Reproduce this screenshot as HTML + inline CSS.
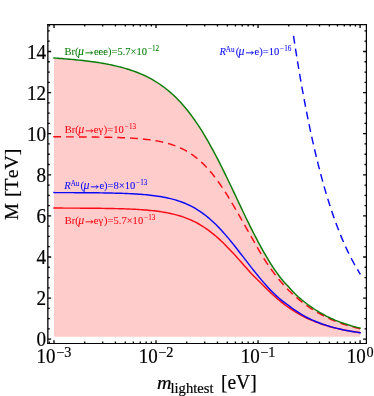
<!DOCTYPE html>
<html><head><meta charset="utf-8"><title>plot</title>
<style>html,body{margin:0;padding:0;background:#fff}svg{display:block;will-change:transform}text{font-kerning:none}</style></head>
<body>
<svg width="374" height="396" viewBox="0 0 374 396">
<rect width="374" height="396" fill="#fff"/>
<path d="M54.00 58.03 L55.92 58.15 L57.85 58.28 L59.77 58.42 L61.70 58.56 L63.62 58.70 L65.55 58.86 L67.47 59.01 L69.40 59.18 L71.32 59.35 L73.25 59.53 L75.17 59.71 L77.09 59.91 L79.02 60.11 L80.94 60.31 L82.87 60.53 L84.79 60.75 L86.72 60.99 L88.64 61.23 L90.57 61.48 L92.49 61.74 L94.42 62.02 L96.34 62.30 L98.26 62.59 L100.19 62.90 L102.11 63.22 L104.04 63.56 L105.96 63.91 L107.89 64.27 L109.81 64.65 L111.74 65.05 L113.66 65.46 L115.58 65.90 L117.51 66.35 L119.43 66.83 L121.36 67.32 L123.28 67.84 L125.21 68.39 L127.13 68.96 L129.06 69.56 L130.98 70.19 L132.91 70.85 L134.83 71.54 L136.75 72.26 L138.68 73.02 L140.60 73.82 L142.53 74.65 L144.45 75.53 L146.38 76.45 L148.30 77.41 L150.23 78.42 L152.15 79.49 L154.08 80.60 L156.00 81.76 L157.92 82.99 L159.85 84.26 L161.77 85.60 L163.70 87.01 L165.62 88.47 L167.55 90.01 L169.47 91.61 L171.40 93.28 L173.32 95.03 L175.25 96.85 L177.17 98.76 L179.09 100.74 L181.02 102.81 L182.94 104.96 L184.87 107.20 L186.79 109.53 L188.72 111.95 L190.64 114.46 L192.57 117.06 L194.49 119.75 L196.42 122.54 L198.34 125.42 L200.26 128.39 L202.19 131.45 L204.11 134.60 L206.04 137.83 L207.96 141.16 L209.89 144.56 L211.81 148.04 L213.74 151.60 L215.66 155.23 L217.58 158.93 L219.51 162.70 L221.43 166.52 L223.36 170.39 L225.28 174.31 L227.21 178.28 L229.13 182.28 L231.06 186.31 L232.98 190.36 L234.91 194.43 L236.83 198.50 L238.75 202.58 L240.68 206.64 L242.60 210.69 L244.53 214.71 L246.45 218.70 L248.38 222.65 L250.30 226.56 L252.23 230.41 L254.15 234.21 L256.08 237.94 L258.00 241.61 L259.92 245.20 L261.85 248.71 L263.77 252.14 L265.70 255.48 L267.62 258.74 L269.55 261.90 L271.47 264.95 L273.40 267.88 L275.32 270.68 L277.25 273.37 L279.17 275.95 L281.09 278.44 L283.02 280.77 L284.94 282.94 L286.87 285.03 L288.79 287.09 L290.72 289.20 L292.64 291.29 L294.57 293.30 L296.49 295.20 L298.42 296.98 L300.34 298.66 L302.26 300.26 L304.19 301.79 L306.11 303.26 L308.04 304.71 L309.96 306.11 L311.89 307.46 L313.81 308.75 L315.74 309.99 L317.66 311.18 L319.58 312.32 L321.51 313.42 L323.43 314.49 L325.36 315.53 L327.28 316.54 L329.21 317.50 L331.13 318.41 L333.06 319.26 L334.98 320.08 L336.91 320.85 L338.83 321.59 L340.75 322.31 L342.68 322.99 L344.60 323.65 L346.53 324.29 L348.45 324.91 L350.38 325.50 L352.30 326.07 L354.23 326.61 L356.15 327.13 L358.08 327.63 L360.00 328.12 L360.30 328.17 L360.30 336.80 L54.00 336.80 Z" fill="#ffcccc"/>
<g fill="none" stroke-width="1.45" stroke-linejoin="round" stroke-linecap="square">
<path d="M54.00 208.07 L55.92 208.08 L57.85 208.08 L59.77 208.09 L61.70 208.09 L63.62 208.10 L65.55 208.10 L67.47 208.11 L69.40 208.11 L71.32 208.12 L73.25 208.13 L75.17 208.13 L77.09 208.14 L79.02 208.15 L80.94 208.16 L82.87 208.17 L84.79 208.19 L86.72 208.20 L88.64 208.21 L90.57 208.23 L92.49 208.25 L94.42 208.26 L96.34 208.28 L98.26 208.30 L100.19 208.33 L102.11 208.35 L104.04 208.38 L105.96 208.41 L107.89 208.44 L109.81 208.47 L111.74 208.51 L113.66 208.55 L115.58 208.60 L117.51 208.64 L119.43 208.70 L121.36 208.75 L123.28 208.81 L125.21 208.88 L127.13 208.95 L129.06 209.02 L130.98 209.11 L132.91 209.20 L134.83 209.30 L136.75 209.40 L138.68 209.51 L140.60 209.64 L142.53 209.77 L144.45 209.92 L146.38 210.07 L148.30 210.24 L150.23 210.42 L152.15 210.62 L154.08 210.83 L156.00 211.06 L157.92 211.31 L159.85 211.58 L161.77 211.87 L163.70 212.18 L165.62 212.51 L167.55 212.88 L169.47 213.26 L171.40 213.68 L173.32 214.13 L175.25 214.61 L177.17 215.13 L179.09 215.68 L181.02 216.28 L182.94 216.91 L184.87 217.59 L186.79 218.31 L188.72 219.09 L190.64 219.91 L192.57 220.78 L194.49 221.71 L196.42 222.70 L198.34 223.75 L200.26 224.85 L202.19 226.02 L204.11 227.25 L206.04 228.54 L207.96 229.90 L209.89 231.32 L211.81 232.81 L213.74 234.36 L215.66 235.98 L217.58 237.65 L219.51 239.39 L221.43 241.19 L223.36 243.04 L225.28 244.94 L227.21 246.89 L229.13 248.89 L231.06 250.93 L232.98 253.00 L234.91 255.11 L236.83 257.24 L238.75 259.39 L240.68 261.56 L242.60 263.74 L244.53 265.92 L246.45 268.10 L248.38 270.28 L250.30 272.45 L252.23 274.51 L254.15 276.45 L256.08 278.32 L258.00 280.17 L259.92 282.03 L261.85 283.96 L263.77 285.93 L265.70 287.87 L267.62 289.77 L269.55 291.63 L271.47 293.44 L273.40 295.21 L275.32 296.94 L277.25 298.62 L279.17 300.24 L281.09 301.82 L283.02 303.35 L284.94 304.82 L286.87 306.25 L288.79 307.62 L290.72 308.94 L292.64 310.21 L294.57 311.43 L296.49 312.61 L298.42 313.74 L300.34 314.82 L302.26 315.87 L304.19 316.86 L306.11 317.81 L308.04 318.72 L309.96 319.58 L311.89 320.41 L313.81 321.20 L315.74 321.96 L317.66 322.69 L319.58 323.39 L321.51 324.05 L323.43 324.69 L325.36 325.29 L327.28 325.87 L329.21 326.43 L331.13 326.96 L333.06 327.47 L334.98 327.95 L336.91 328.42 L338.83 328.86 L340.75 329.28 L342.68 329.68 L344.60 330.07 L346.53 330.43 L348.45 330.78 L350.38 331.12 L352.30 331.44 L354.23 331.74 L356.15 332.03 L358.08 332.31 L360.00 332.58" stroke="#fa0a14"/>
<path d="M54.00 136.83 L55.92 136.83 L57.85 136.84 L59.77 136.84 L61.70 136.85 L63.62 136.85 L65.55 136.86 L67.47 136.87 L69.40 136.87 L71.32 136.88 L73.25 136.89 L75.17 136.90 L77.09 136.91 L79.02 136.92 L80.94 136.93 L82.87 136.94 L84.79 136.96 L86.72 136.97 L88.64 136.99 L90.57 137.01 L92.49 137.03 L94.42 137.05 L96.34 137.07 L98.26 137.10 L100.19 137.13 L102.11 137.16 L104.04 137.19 L105.96 137.23 L107.89 137.27 L109.81 137.31 L111.74 137.36 L113.66 137.41 L115.58 137.46 L117.51 137.52 L119.43 137.59 L121.36 137.66 L123.28 137.74 L125.21 137.82 L127.13 137.91 L129.06 138.01 L130.98 138.12 L132.91 138.24 L134.83 138.37 L136.75 138.51 L138.68 138.66 L140.60 138.83 L142.53 139.00 L144.45 139.20 L146.38 139.41 L148.30 139.64 L150.23 139.89 L152.15 140.16 L154.08 140.45 L156.00 140.77 L157.92 141.12 L159.85 141.49 L161.77 141.89 L163.70 142.33 L165.62 142.80 L167.55 143.32 L169.47 143.87 L171.40 144.47 L173.32 145.11 L175.25 145.81 L177.17 146.56 L179.09 147.37 L181.02 148.23 L182.94 149.17 L184.87 150.17 L186.79 151.24 L188.72 152.39 L190.64 153.62 L192.57 154.93 L194.49 156.33 L196.42 157.82 L198.34 159.40 L200.26 161.08 L202.19 162.86 L204.11 164.74 L206.04 166.72 L207.96 168.81 L209.89 171.00 L211.81 173.30 L213.74 175.70 L215.66 178.20 L217.58 180.81 L219.51 183.51 L221.43 186.30 L223.36 189.19 L225.28 192.16 L227.21 195.20 L229.13 198.32 L231.06 201.51 L232.98 204.75 L234.91 208.04 L236.83 211.37 L238.75 214.73 L240.68 218.11 L242.60 221.51 L244.53 224.91 L246.45 228.30 L248.38 231.69 L250.30 235.06 L252.23 238.45 L254.15 241.87 L256.08 245.28 L258.00 248.67 L259.92 252.00 L261.85 255.24 L263.77 258.37 L265.70 261.36 L267.62 264.24 L269.55 267.04 L271.47 269.76 L273.40 272.39 L275.32 274.95 L277.25 277.42 L279.17 279.80 L281.09 282.10 L283.02 284.31 L284.94 286.44 L286.87 288.47 L288.79 290.42 L290.72 292.28 L292.64 294.08 L294.57 295.83 L296.49 297.53 L298.42 299.17 L300.34 300.75 L302.26 302.27 L304.19 303.73 L306.11 305.15 L308.04 306.52 L309.96 307.84 L311.89 309.10 L313.81 310.32 L315.74 311.49 L317.66 312.61 L319.58 313.70 L321.51 314.75 L323.43 315.77 L325.36 316.76 L327.28 317.72 L329.21 318.64 L331.13 319.52 L333.06 320.34 L334.98 321.13 L336.91 321.88 L338.83 322.60 L340.75 323.29 L342.68 323.95 L344.60 324.58 L346.53 325.18 L348.45 325.76 L350.38 326.31 L352.30 326.84 L354.23 327.35 L356.15 327.83 L358.08 328.29 L360.00 328.73" stroke="#fa0a14" stroke-dasharray="6.35 6.45" stroke-dashoffset="0"/>
<path d="M54.00 192.59 L55.92 192.60 L57.85 192.60 L59.77 192.61 L61.70 192.61 L63.62 192.62 L65.55 192.62 L67.47 192.63 L69.40 192.63 L71.32 192.64 L73.25 192.65 L75.17 192.66 L77.09 192.67 L79.02 192.68 L80.94 192.69 L82.87 192.70 L84.79 192.71 L86.72 192.73 L88.64 192.74 L90.57 192.76 L92.49 192.78 L94.42 192.80 L96.34 192.82 L98.26 192.84 L100.19 192.87 L102.11 192.90 L104.04 192.93 L105.96 192.96 L107.89 192.99 L109.81 193.03 L111.74 193.07 L113.66 193.12 L115.58 193.16 L117.51 193.22 L119.43 193.27 L121.36 193.34 L123.28 193.40 L125.21 193.47 L127.13 193.55 L129.06 193.64 L130.98 193.73 L132.91 193.83 L134.83 193.94 L136.75 194.06 L138.68 194.18 L140.60 194.32 L142.53 194.47 L144.45 194.63 L146.38 194.81 L148.30 194.99 L150.23 195.20 L152.15 195.42 L154.08 195.66 L156.00 195.91 L157.92 196.19 L159.85 196.49 L161.77 196.82 L163.70 197.17 L165.62 197.55 L167.55 197.95 L169.47 198.39 L171.40 198.86 L173.32 199.37 L175.25 199.91 L177.17 200.50 L179.09 201.12 L181.02 201.80 L182.94 202.52 L184.87 203.29 L186.79 204.11 L188.72 204.99 L190.64 205.92 L192.57 206.92 L194.49 207.98 L196.42 209.11 L198.34 210.30 L200.26 211.56 L202.19 212.90 L204.11 214.31 L206.04 215.79 L207.96 217.34 L209.89 218.97 L211.81 220.68 L213.74 222.46 L215.66 224.31 L217.58 226.23 L219.51 228.23 L221.43 230.29 L223.36 232.42 L225.28 234.61 L227.21 236.85 L229.13 239.14 L231.06 241.49 L232.98 243.87 L234.91 246.29 L236.83 248.73 L238.75 251.20 L240.68 253.69 L242.60 256.18 L244.53 258.68 L246.45 261.18 L248.38 263.67 L250.30 266.14 L252.23 268.60 L254.15 271.02 L256.08 273.42 L258.00 275.78 L259.92 278.10 L261.85 280.37 L263.77 282.60 L265.70 284.78 L267.62 286.91 L269.55 288.98 L271.47 291.00 L273.40 292.96 L275.32 294.85 L277.25 296.64 L279.17 298.32 L281.09 299.89 L283.02 301.39 L284.94 302.84 L286.87 304.25 L288.79 305.66 L290.72 307.08 L292.64 308.49 L294.57 309.87 L296.49 311.19 L298.42 312.46 L300.34 313.68 L302.26 314.84 L304.19 315.95 L306.11 317.01 L308.04 318.00 L309.96 318.93 L311.89 319.83 L313.81 320.68 L315.74 321.50 L317.66 322.28 L319.58 323.02 L321.51 323.73 L323.43 324.41 L325.36 325.06 L327.28 325.68 L329.21 326.27 L331.13 326.83 L333.06 327.36 L334.98 327.87 L336.91 328.36 L338.83 328.82 L340.75 329.27 L342.68 329.69 L344.60 330.09 L346.53 330.47 L348.45 330.83 L350.38 331.18 L352.30 331.51 L354.23 331.83 L356.15 332.12 L358.08 332.41 L360.00 332.68" stroke="#0a0afa"/>
<path d="M293.63 36.70 L294.47 42.21 L295.31 47.63 L296.15 52.96 L296.99 58.20 L297.83 63.34 L298.67 68.40 L299.51 73.38 L300.35 78.27 L301.19 83.08 L302.03 87.80 L302.87 92.45 L303.71 97.01 L304.55 101.50 L305.39 105.91 L306.23 110.24 L307.07 114.50 L307.91 118.68 L308.75 122.80 L309.59 126.84 L310.43 130.81 L311.27 134.71 L312.11 138.54 L312.95 142.31 L313.79 146.01 L314.63 149.65 L315.47 153.22 L316.31 156.73 L317.15 160.18 L317.99 163.57 L318.84 166.90 L319.68 170.17 L320.52 173.38 L321.36 176.53 L322.20 179.63 L323.04 182.67 L323.88 185.66 L324.72 188.60 L325.56 191.48 L326.40 194.31 L327.24 197.09 L328.08 199.82 L328.92 202.50 L329.76 205.14 L330.60 207.72 L331.44 210.26 L332.28 212.76 L333.12 215.20 L333.96 217.61 L334.80 219.97 L335.64 222.29 L336.48 224.56 L337.32 226.79 L338.16 228.99 L339.00 231.14 L339.84 233.25 L340.68 235.32 L341.52 237.36 L342.36 239.36 L343.20 241.32 L344.04 243.25 L344.88 245.13 L345.72 246.99 L346.56 248.81 L347.40 250.60 L348.24 252.35 L349.08 254.07 L349.92 255.76 L350.76 257.41 L351.60 259.04 L352.44 260.63 L353.28 262.20 L354.12 263.73 L354.96 265.24 L355.80 266.72 L356.64 268.17 L357.48 269.59 L358.32 270.99 L359.16 272.36 L360.00 273.70" stroke="#0a0afa" stroke-dasharray="6.35 6.45" stroke-dashoffset="0"/>
<path d="M54.00 58.03 L55.92 58.15 L57.85 58.28 L59.77 58.42 L61.70 58.56 L63.62 58.70 L65.55 58.86 L67.47 59.01 L69.40 59.18 L71.32 59.35 L73.25 59.53 L75.17 59.71 L77.09 59.91 L79.02 60.11 L80.94 60.31 L82.87 60.53 L84.79 60.75 L86.72 60.99 L88.64 61.23 L90.57 61.48 L92.49 61.74 L94.42 62.02 L96.34 62.30 L98.26 62.59 L100.19 62.90 L102.11 63.22 L104.04 63.56 L105.96 63.91 L107.89 64.27 L109.81 64.65 L111.74 65.05 L113.66 65.46 L115.58 65.90 L117.51 66.35 L119.43 66.83 L121.36 67.32 L123.28 67.84 L125.21 68.39 L127.13 68.96 L129.06 69.56 L130.98 70.19 L132.91 70.85 L134.83 71.54 L136.75 72.26 L138.68 73.02 L140.60 73.82 L142.53 74.65 L144.45 75.53 L146.38 76.45 L148.30 77.41 L150.23 78.42 L152.15 79.49 L154.08 80.60 L156.00 81.76 L157.92 82.99 L159.85 84.26 L161.77 85.60 L163.70 87.01 L165.62 88.47 L167.55 90.01 L169.47 91.61 L171.40 93.28 L173.32 95.03 L175.25 96.85 L177.17 98.76 L179.09 100.74 L181.02 102.81 L182.94 104.96 L184.87 107.20 L186.79 109.53 L188.72 111.95 L190.64 114.46 L192.57 117.06 L194.49 119.75 L196.42 122.54 L198.34 125.42 L200.26 128.39 L202.19 131.45 L204.11 134.60 L206.04 137.83 L207.96 141.16 L209.89 144.56 L211.81 148.04 L213.74 151.60 L215.66 155.23 L217.58 158.93 L219.51 162.70 L221.43 166.52 L223.36 170.39 L225.28 174.31 L227.21 178.28 L229.13 182.28 L231.06 186.31 L232.98 190.36 L234.91 194.43 L236.83 198.50 L238.75 202.58 L240.68 206.64 L242.60 210.69 L244.53 214.71 L246.45 218.70 L248.38 222.65 L250.30 226.56 L252.23 230.41 L254.15 234.21 L256.08 237.94 L258.00 241.61 L259.92 245.20 L261.85 248.71 L263.77 252.14 L265.70 255.48 L267.62 258.74 L269.55 261.90 L271.47 264.95 L273.40 267.88 L275.32 270.68 L277.25 273.37 L279.17 275.95 L281.09 278.44 L283.02 280.77 L284.94 282.94 L286.87 285.03 L288.79 287.09 L290.72 289.20 L292.64 291.29 L294.57 293.30 L296.49 295.20 L298.42 296.98 L300.34 298.66 L302.26 300.26 L304.19 301.79 L306.11 303.26 L308.04 304.71 L309.96 306.11 L311.89 307.46 L313.81 308.75 L315.74 309.99 L317.66 311.18 L319.58 312.32 L321.51 313.42 L323.43 314.49 L325.36 315.53 L327.28 316.54 L329.21 317.50 L331.13 318.41 L333.06 319.26 L334.98 320.08 L336.91 320.85 L338.83 321.59 L340.75 322.31 L342.68 322.99 L344.60 323.65 L346.53 324.29 L348.45 324.91 L350.38 325.50 L352.30 326.07 L354.23 326.61 L356.15 327.13 L358.08 327.63 L360.00 328.12" stroke="#087d08"/>
</g>
<path d="M47.85 339.20h3.30 M366.40 339.20h-3.30 M47.85 328.93h1.90 M366.40 328.93h-1.90 M47.85 318.65h1.90 M366.40 318.65h-1.90 M47.85 308.38h1.90 M366.40 308.38h-1.90 M47.85 298.10h3.30 M366.40 298.10h-3.30 M47.85 287.82h1.90 M366.40 287.82h-1.90 M47.85 277.55h1.90 M366.40 277.55h-1.90 M47.85 267.27h1.90 M366.40 267.27h-1.90 M47.85 257.00h3.30 M366.40 257.00h-3.30 M47.85 246.72h1.90 M366.40 246.72h-1.90 M47.85 236.45h1.90 M366.40 236.45h-1.90 M47.85 226.17h1.90 M366.40 226.17h-1.90 M47.85 215.90h3.30 M366.40 215.90h-3.30 M47.85 205.62h1.90 M366.40 205.62h-1.90 M47.85 195.35h1.90 M366.40 195.35h-1.90 M47.85 185.07h1.90 M366.40 185.07h-1.90 M47.85 174.80h3.30 M366.40 174.80h-3.30 M47.85 164.52h1.90 M366.40 164.52h-1.90 M47.85 154.25h1.90 M366.40 154.25h-1.90 M47.85 143.97h1.90 M366.40 143.97h-1.90 M47.85 133.70h3.30 M366.40 133.70h-3.30 M47.85 123.42h1.90 M366.40 123.42h-1.90 M47.85 113.15h1.90 M366.40 113.15h-1.90 M47.85 102.87h1.90 M366.40 102.87h-1.90 M47.85 92.60h3.30 M366.40 92.60h-3.30 M47.85 82.32h1.90 M366.40 82.32h-1.90 M47.85 72.05h1.90 M366.40 72.05h-1.90 M47.85 61.77h1.90 M366.40 61.77h-1.90 M47.85 51.50h3.30 M366.40 51.50h-3.30 M47.85 41.22h1.90 M366.40 41.22h-1.90 M47.85 30.95h1.90 M366.40 30.95h-1.90 M49.33 343.45v-1.90 M49.33 24.60v1.90 M54.00 343.45v-3.30 M54.00 24.60v3.30 M84.71 343.45v-1.90 M84.71 24.60v1.90 M102.68 343.45v-1.90 M102.68 24.60v1.90 M115.43 343.45v-1.90 M115.43 24.60v1.90 M125.32 343.45v-1.90 M125.32 24.60v1.90 M133.39 343.45v-1.90 M133.39 24.60v1.90 M140.23 343.45v-1.90 M140.23 24.60v1.90 M146.14 343.45v-1.90 M146.14 24.60v1.90 M151.36 343.45v-1.90 M151.36 24.60v1.90 M156.03 343.45v-3.30 M156.03 24.60v3.30 M186.74 343.45v-1.90 M186.74 24.60v1.90 M204.71 343.45v-1.90 M204.71 24.60v1.90 M217.46 343.45v-1.90 M217.46 24.60v1.90 M227.35 343.45v-1.90 M227.35 24.60v1.90 M235.42 343.45v-1.90 M235.42 24.60v1.90 M242.26 343.45v-1.90 M242.26 24.60v1.90 M248.17 343.45v-1.90 M248.17 24.60v1.90 M253.39 343.45v-1.90 M253.39 24.60v1.90 M258.06 343.45v-3.30 M258.06 24.60v3.30 M288.77 343.45v-1.90 M288.77 24.60v1.90 M306.74 343.45v-1.90 M306.74 24.60v1.90 M319.49 343.45v-1.90 M319.49 24.60v1.90 M329.38 343.45v-1.90 M329.38 24.60v1.90 M337.45 343.45v-1.90 M337.45 24.60v1.90 M344.29 343.45v-1.90 M344.29 24.60v1.90 M350.20 343.45v-1.90 M350.20 24.60v1.90 M355.42 343.45v-1.90 M355.42 24.60v1.90 M360.09 343.45v-3.30 M360.09 24.60v3.30" fill="none" stroke="#000" stroke-width="1.3"/>
<g stroke="#000" fill="none"><path d="M47.20 24.60H367.00" stroke-width="1.2"/><path d="M47.20 343.45H367.00" stroke-width="1.1"/><path d="M47.85 24.00V344.00" stroke-width="1.3"/><path d="M366.40 24.00V344.00" stroke-width="1.2"/></g>
<g font-family="'Liberation Serif', serif" fill="#000" stroke="#000" stroke-width="0.2">
<text transform="translate(46.20 346) scale(1.01 1.08)" font-size="19" text-anchor="end">0</text>
<text transform="translate(46.20 305) scale(1.01 1.08)" font-size="19" text-anchor="end">2</text>
<text transform="translate(46.20 264) scale(1.01 1.08)" font-size="19" text-anchor="end">4</text>
<text transform="translate(46.20 223) scale(1.01 1.08)" font-size="19" text-anchor="end">6</text>
<text transform="translate(46.20 182) scale(1.01 1.08)" font-size="19" text-anchor="end">8</text>
<text transform="translate(46.20 141) scale(1.01 1.08)" font-size="19" text-anchor="end">10</text>
<text transform="translate(46.20 100) scale(1.01 1.08)" font-size="19" text-anchor="end">12</text>
<text transform="translate(46.20 59) scale(1.01 1.08)" font-size="19" text-anchor="end">14</text>
<text transform="translate(36.60 363.00) scale(1 1.08)" font-size="19">10</text><text x="56.30" y="357.00" font-size="14.2">−3</text>
<text transform="translate(138.63 363.00) scale(1 1.08)" font-size="19">10</text><text x="158.33" y="357.00" font-size="14.2">−2</text>
<text transform="translate(240.66 363.00) scale(1 1.08)" font-size="19">10</text><text x="260.36" y="357.00" font-size="14.2">−1</text>
<text transform="translate(346.69 363.00) scale(1 1.08)" font-size="19">10</text><text x="366.39" y="357.00" font-size="14.2">0</text>
<text transform="translate(17.5 220.0) rotate(-90)" font-size="19">M</text><text transform="translate(17.5 197.1) rotate(-90) scale(1.045 1)" font-size="19">[TeV]</text>
<text transform="translate(157.00 389) scale(1.07 1)" font-size="18.8" font-style="italic">m</text><text x="170.50" y="393" font-size="14.6">lightest</text><text transform="translate(220.90 389) scale(1.03 1.06)" font-size="19">[eV]</text>
</g>
<g font-family="'Liberation Serif', serif" fill="#087d08" stroke="#087d08" stroke-width="0.08">
<text x="64.40" y="55.00" font-size="10.55">Br(</text>
<text x="77.91" y="55.00" font-size="11.92" font-style="italic">μ</text>
<path d="M85.34 52.84H91.94" fill="none" stroke-width="0.95"/><path d="M93.25 52.84Q91.80 52.14 90.62 50.83Q91.41 52.04 91.62 52.84Q91.41 53.64 90.62 54.84Q91.80 53.54 93.25 52.84Z" stroke-width="0.3"/>
<text x="93.89" y="55.00" font-size="10.55">eee)=5.7×10</text>
<text transform="translate(147.89 51.00) scale(1 1.15)" font-size="7.2">−12</text>
</g>
<g font-family="'Liberation Serif', serif" fill="#fa0a14" stroke="#fa0a14" stroke-width="0.08">
<text x="64.70" y="133.00" font-size="10.55">Br(</text>
<text x="78.21" y="133.00" font-size="11.92" font-style="italic">μ</text>
<path d="M85.64 130.84H92.24" fill="none" stroke-width="0.95"/><path d="M93.55 130.84Q92.10 130.14 90.92 128.83Q91.71 130.04 91.92 130.84Q91.71 131.64 90.92 132.84Q92.10 131.54 93.55 130.84Z" stroke-width="0.3"/>
<text x="93.79" y="133.00" font-size="10.55">eγ</text>
<text x="103.83" y="133.00" font-size="10.55">)=10</text>
<text transform="translate(124.84 129.00) scale(1 1.15)" font-size="7.2">−13</text>
</g>
<g font-family="'Liberation Serif', serif" fill="#0a0afa" stroke="#0a0afa" stroke-width="0.08">
<text x="64.20" y="189.00" font-size="10.55" font-style="italic">R</text>
<text transform="translate(70.64 186.00) scale(1 1.15)" font-size="7.2">Au</text>
<text x="80.44" y="189.00" font-size="10.55">(</text>
<text x="83.41" y="189.00" font-size="11.92" font-style="italic">μ</text>
<path d="M90.84 186.84H97.43" fill="none" stroke-width="0.95"/><path d="M98.75 186.84Q97.30 186.14 96.11 184.83Q96.90 186.04 97.11 186.84Q96.90 187.64 96.11 188.84Q97.30 187.54 98.75 186.84Z" stroke-width="0.3"/>
<text x="99.38" y="189.00" font-size="10.55">e)=8×10</text>
<text transform="translate(136.10 185.00) scale(1 1.15)" font-size="7.2">−13</text>
</g>
<g font-family="'Liberation Serif', serif" fill="#fa0a14" stroke="#fa0a14" stroke-width="0.08">
<text x="64.70" y="224.00" font-size="10.55">Br(</text>
<text x="78.21" y="224.00" font-size="11.92" font-style="italic">μ</text>
<path d="M85.64 221.84H92.24" fill="none" stroke-width="0.95"/><path d="M93.55 221.84Q92.10 221.14 90.92 219.83Q91.71 221.04 91.92 221.84Q91.71 222.64 90.92 223.84Q92.10 222.54 93.55 221.84Z" stroke-width="0.3"/>
<text x="93.79" y="224.00" font-size="10.55">eγ</text>
<text x="104.03" y="224.00" font-size="10.55">)=5.7×10</text>
<text transform="translate(144.18 220.00) scale(1 1.15)" font-size="7.2">−13</text>
</g>
<g font-family="'Liberation Serif', serif" fill="#0a0afa" stroke="#0a0afa" stroke-width="0.08">
<text x="219.40" y="55.00" font-size="10.55" font-style="italic">R</text>
<text transform="translate(225.84 52.00) scale(1 1.15)" font-size="7.2">Au</text>
<text x="235.64" y="55.00" font-size="10.55">(</text>
<text x="238.61" y="55.00" font-size="11.92" font-style="italic">μ</text>
<path d="M246.04 52.84H252.63" fill="none" stroke-width="0.95"/><path d="M253.95 52.84Q252.50 52.14 251.31 50.83Q252.10 52.04 252.31 52.84Q252.10 53.64 251.31 54.84Q252.50 53.54 253.95 52.84Z" stroke-width="0.3"/>
<text x="254.58" y="55.00" font-size="10.55">e)=10</text>
<text transform="translate(280.08 51.00) scale(1 1.15)" font-size="7.2">−16</text>
</g>
</svg>
</body></html>
